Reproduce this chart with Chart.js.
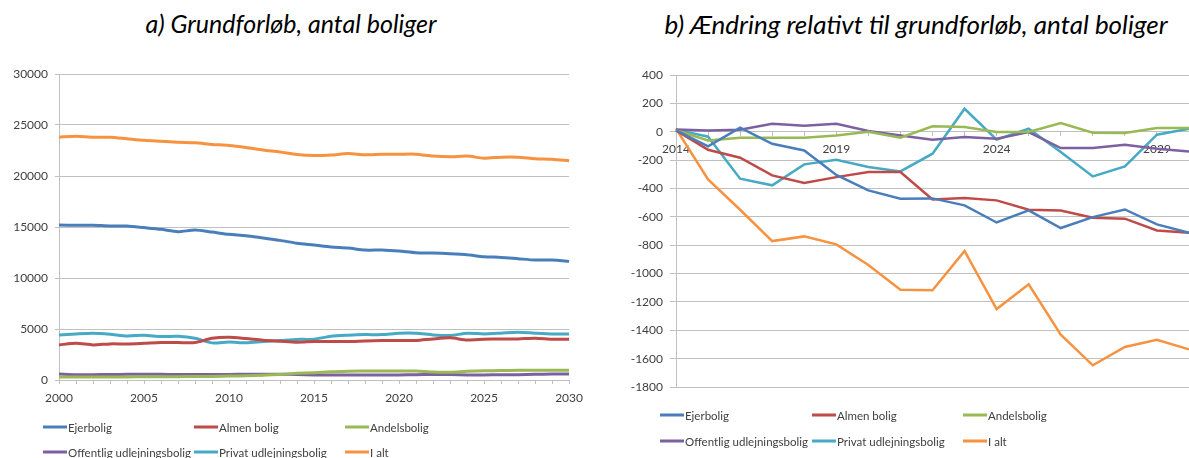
<!DOCTYPE html>
<html>
<head>
<meta charset="utf-8">
<script src="https://cdn.jsdelivr.net/npm/chart.js@4.4.1/dist/chart.umd.min.js"></script>
<style>
  body { margin: 0; width: 1189px; height: 458px; overflow: hidden; background: #fff; font-family: Lato, sans-serif; }
  .title { position: absolute; top: 8px; font-style: italic; color: #000; white-space: nowrap; transform: translateX(-50%); }
  canvas { position: absolute; top: 0; }
  .leg { position: absolute; font-size: 11.5px; color: #404040; white-space: nowrap; transform: translateY(-50%); display: flex; align-items: center; }
  .leg i { display: inline-block; width: 24px; height: 3px; margin-right: 1px; }
</style>
</head>
<body>
<div class="title" style="left:291px; font-size:25px">a) Grundforløb, antal boliger</div>
<div class="title" style="left:916px; font-size:26px">b) Ændring relativt til grundforløb, antal boliger</div>
<canvas id="grund" width="590" height="458" style="left:0"></canvas>
<canvas id="aendring" width="600" height="458" style="left:595px"></canvas>
<div id="legA"></div>
<div id="legB"></div>
<script>
const seriesNames = ['Ejerbolig', 'Almen bolig', 'Andelsbolig', 'Offentlig udlejningsbolig', 'Privat udlejningsbolig', 'I alt'];
const colors = ['#4a7ebb', '#be4b48', '#98b954', '#7d60a0', '#46aac5', '#f69240'];

// a) Grundforløb, 2000-2030
const yearsA = ['2000','2001','2002','2003','2004','2005','2006','2007','2008','2009','2010',
  '2011','2012','2013','2014','2015','2016','2017','2018','2019','2020',
  '2021','2022','2023','2024','2025','2026','2027','2028','2029','2030'];
const ejerA = [15200,15170,15170,15100,15100,14940,14770,14540,14700,14500,14280,14150,13920,13690,13400,13230,13040,12940,12740,12740,12640,12480,12450,12380,12280,12090,12020,11890,11760,11760,11630];
const almenA = [3440,3600,3440,3540,3540,3600,3670,3670,3670,4090,4190,4060,3900,3800,3700,3770,3770,3770,3830,3870,3870,3870,4030,4130,3930,4000,4030,4030,4090,4000,4000];
const andelsA = [300,300,300,300,300,320,330,330,340,350,380,420,470,550,650,720,800,870,880,880,880,880,780,760,850,900,930,950,950,950,950];
const offentligA = [590,520,520,540,560,560,560,540,540,550,550,560,560,560,540,500,500,500,500,500,500,520,540,540,500,500,520,520,560,580,600];
const privatA = [4420,4520,4590,4490,4320,4390,4260,4290,4090,3640,3730,3640,3770,3870,3980,4000,4290,4390,4450,4450,4590,4590,4420,4360,4590,4520,4590,4680,4590,4520,4520];
const iAltA = [23810,23900,23800,23800,23650,23500,23400,23300,23250,23100,23000,22800,22550,22350,22100,22000,22050,22200,22080,22140,22140,22140,21950,21880,21950,21750,21850,21850,21700,21650,21500];

// b) Ændring relativt til grundforløb, 2014-2030
const yearsB = ['2014','2015','2016','2017','2018','2019','2020','2021','2022','2023','2024','2025','2026','2027','2028','2029','2030'];
const ejerB = [10,-103,28,-85,-132,-305,-414,-472,-470,-519,-640,-555,-679,-602,-548,-653,-712];
const almenB = [10,-127,-183,-308,-362,-320,-284,-284,-477,-468,-484,-550,-555,-606,-613,-696,-712];
const andelsB = [10,-61,-42,-42,-42,-26,0,-42,38,33,-2,-2,61,-7,-9,26,26];
const offentligB = [15,9,14,56,42,56,5,-26,-56,-38,-49,-2,-115,-115,-92,-120,-139];
const privatB = [15,-35,-331,-378,-230,-197,-249,-280,-155,162,-56,21,-143,-315,-244,-21,21];
const iAltB = [22,-336,-550,-771,-738,-794,-940,-1114,-1118,-841,-1250,-1076,-1431,-1647,-1518,-1467,-1535];

const tickFont = { family: 'Lato', size: 12 };
const gridColor = '#c0c0c0';

function datasets(list, width, tension) {
  return list.map((d, i) => ({
    label: seriesNames[i],
    data: d,
    borderColor: colors[i],
    backgroundColor: colors[i],
    borderWidth: width,
    tension: tension,
    pointRadius: 0,
    fill: false
  }));
}

// plain numbers on the value axis, no thousands separator
const plain = v => String(v);
// only every fifth year gets a label, ticks on all of them
function everyFifth(v, i) { return i % 5 === 0 ? this.getLabelForValue(v) : ''; }

new Chart(document.getElementById('grund'), {
  type: 'line',
  data: {
    labels: yearsA,
    datasets: datasets([ejerA, almenA, andelsA, offentligA, privatA, iAltA], 3, 0.25)
  },
  options: {
    responsive: false,
    animation: false,
    layout: { padding: { left: 0, right: 18, top: 74, bottom: 0 } },
    plugins: { legend: { display: false }, tooltip: { enabled: false } },
    scales: {
      x: {
        grid: { drawOnChartArea: false, tickLength: 4, color: gridColor },
        border: { color: gridColor },
        ticks: { autoSkip: false, maxRotation: 0, padding: 7, color: '#404040', font: tickFont, callback: everyFifth },
        afterFit(s) { s.height = 78; }
      },
      y: {
        min: 0, max: 30000,
        grid: { tickLength: 4, color: gridColor },
        border: { color: gridColor },
        ticks: { stepSize: 5000, padding: 7, color: '#404040', font: tickFont, callback: plain },
        afterFit(s) { s.width = 59; }
      }
    }
  }
});

new Chart(document.getElementById('aendring'), {
  type: 'line',
  data: {
    labels: yearsB,
    datasets: datasets([ejerB, almenB, andelsB, offentligB, privatB, iAltB], 2.5, 0)
  },
  options: {
    responsive: false,
    animation: false,
    layout: { padding: { left: 0, right: 5, top: 75, bottom: 71 } },
    plugins: { legend: { display: false }, tooltip: { enabled: false } },
    scales: {
      x: {
        position: { y: 0 },
        grid: { drawOnChartArea: false, tickLength: 4, color: gridColor },
        border: { color: gridColor },
        ticks: { autoSkip: false, maxRotation: 0, padding: 6, color: '#404040', font: tickFont, callback: everyFifth },
        afterFit(s) { s.height = 0; }
      },
      y: {
        min: -1800, max: 400,
        grid: { tickLength: 6, color: gridColor },
        border: { color: gridColor },
        ticks: { stepSize: 200, padding: 7, color: '#404040', font: tickFont, callback: plain },
        afterFit(s) { s.width = 81; }
      }
    }
  }
});

// legends laid out in two rows of three
function legend(id, rows, cols) {
  const box = document.getElementById(id);
  seriesNames.forEach((name, i) => {
    const el = document.createElement('div');
    el.className = 'leg';
    el.style.left = cols[i % 3] + 'px';
    el.style.top = rows[Math.floor(i / 3)] + 'px';
    el.innerHTML = '<i style="background:' + colors[i] + '"></i>' + name;
    box.appendChild(el);
  });
}
legend('legA', [427, 452], [43, 194, 345]);
legend('legB', [415, 441], [660, 812, 963]);
</script>
</body>
</html>
